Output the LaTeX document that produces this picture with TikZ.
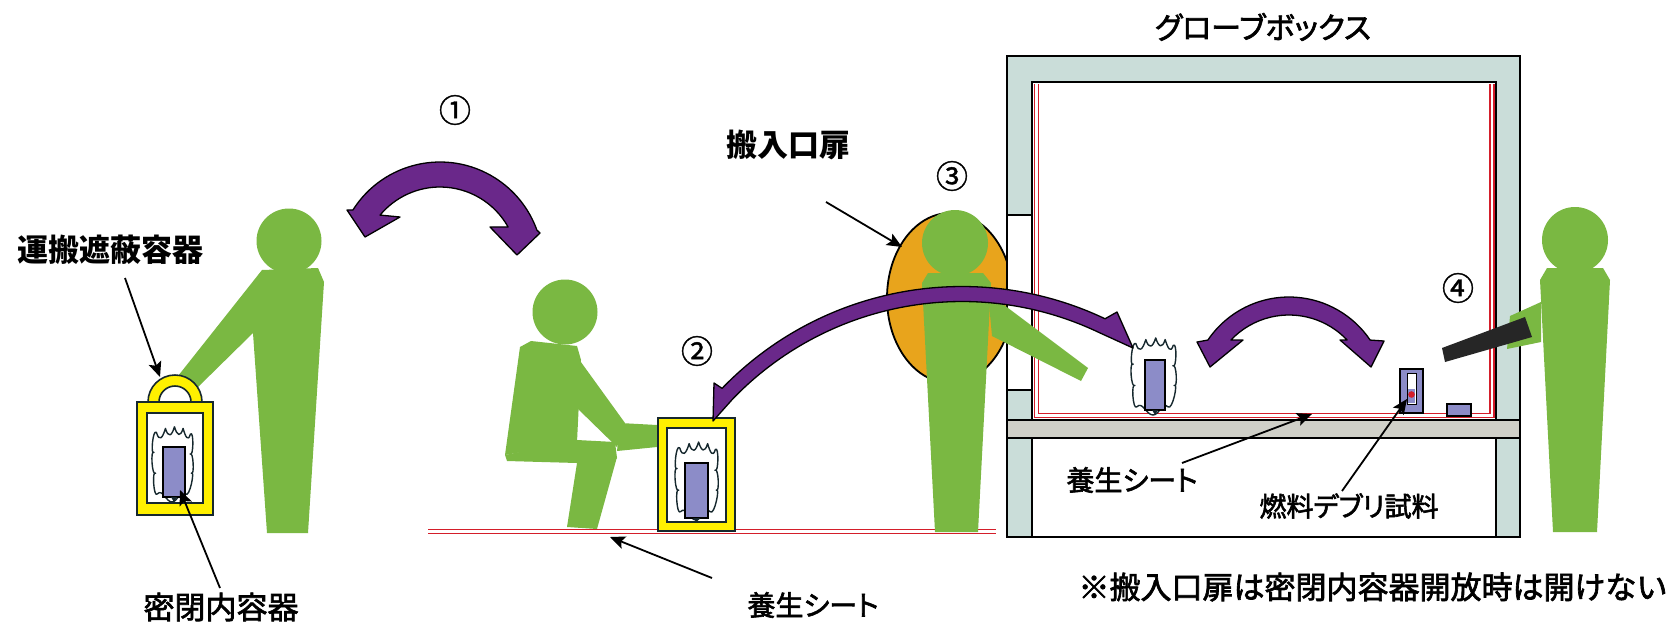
\documentclass[tikz,border=0pt]{standalone}
\usepackage{fontspec}
\newfontfamily\jp{Noto Sans CJK JP}
\newfontfamily\jpn{Noto Sans CJK JP}[FakeBold=1.2]
\newfontfamily\jpm{Noto Sans CJK JP}[FakeBold=2.2]
\newfontfamily\jpmp{Noto Sans CJK JP}[FakeBold=2.2,RawFeature=+palt]
\usetikzlibrary{arrows.meta,calc}

\definecolor{figgreen}{RGB}{122,184,66}
\definecolor{arcpurple}{RGB}{106,40,138}
\definecolor{lav}{RGB}{140,140,200}
\definecolor{shieldyellow}{RGB}{255,240,0}
\definecolor{darkline}{RGB}{22,40,46}
\definecolor{wallgray}{RGB}{202,221,217}
\definecolor{shelfgray}{RGB}{208,208,200}
\definecolor{doororange}{RGB}{232,164,28}
\definecolor{sheetred}{RGB}{212,30,42}

% white bag with a scalloped top, unit size, origin at bottom centre, y up
\tikzset{
  bag/.pic={
    \draw[darkline, fill=white, line width=1.4pt, line join=round]
      (0,0) to[out=180,in=-30] (-0.36,0.1)
      to[out=150,in=-150] (-0.4,0.36)
      to[out=150,in=-150] (-0.44,0.62)
      to[out=150,in=-150] (-0.38,0.87)
      to[out=60,in=120,looseness=1.6] (-0.16,0.92)
      to[out=60,in=120,looseness=1.6] (0.06,0.94)
      to[out=60,in=120,looseness=1.6] (0.27,0.92)
      to[out=60,in=120,looseness=1.6] (0.45,0.85)
      to[out=-30,in=30] (0.44,0.6)
      to[out=-30,in=30] (0.47,0.36)
      to[out=-30,in=30] (0.33,0.1)
      to[out=-150,in=0] (0,0) -- cycle;
  }
}

\begin{document}
\begin{tikzpicture}[x=1pt,y=-1pt,
  person/.style={fill=figgreen},
  fatarrow/.style={fill=arcpurple, draw=black, line width=1.3pt, line join=round},
  pointer/.style={draw=black, line width=1.8pt, -{Stealth[length=15pt,width=13pt,inset=3pt]}},
  shield/.style={fill=shieldyellow, draw=darkline, line width=1.6pt},
  inner/.style={fill=white, draw=darkline, line width=1.6pt},
  item/.style={fill=lav, draw=black, line width=1.4pt},
  boxline/.style={draw=black, line width=2pt},
  sheet/.style={draw=sheetred, line width=1.3pt},
  lab/.style={inner sep=0pt, font=\jpm\fontsize{30}{30}\selectfont},
  num/.style={inner sep=0pt, font=\jpn\fontsize{32}{32}\selectfont}]

\useasboundingbox (0,0) rectangle (1680,622);
\fill[white] (0,0) rectangle (1680,622);

% protective sheet on the floor
\draw[sheet] (428,529.5) -- (996,529.5);
\draw[sheet] (428,533.5) -- (996,533.5);

% ---------- worker 1 carrying the shielded cask ----------
\fill[person] (289,241) circle[radius=32.5];
\fill[person] (262,270) -- (318,268) -- (324,282) -- (308,533) -- (267,533)
  -- (253,333) -- (197,388) -- (178,376) -- cycle;

% shielded transport cask 1
\draw[shield] (148,402) arc[start angle=180,end angle=360,radius=27]
  -- (191,402) arc[start angle=0,end angle=-180,radius=16] -- cycle;
\draw[shield] (137,402) rectangle (213,515);
\draw[inner] (147,413) rectangle (203,503);
\pic[xscale=41,yscale=-80] at (172,502) {bag};
\draw[item] (163,447) rectangle (185,497);
\fill[darkline] (171,497) -- (177,497) -- (174,502) -- cycle;

% ---------- worker 2 crouching ----------
\fill[person] (565,312) circle[radius=32.5];
\fill[person] (520,347) -- (531,341) -- (577,346) -- (581,360) -- (577,442) -- (505,455) -- cycle;
\fill[person] (578,358) -- (625,423) -- (617,447) -- (576,407) -- cycle;
\fill[person] (620,423) -- (657,425) -- (657,447) -- (617,451) -- cycle;
\fill[person] (505,455) -- (577,440) -- (615,442) -- (617,458) -- (612,464) -- (507,461) -- cycle;
\fill[person] (577,463) -- (617,457) -- (597,529) -- (567,527) -- cycle;

% shielded transport cask 2 (on the sheet)
\draw[shield] (658,418) rectangle (735,531);
\draw[inner] (667,428) rectangle (726,522);
\pic[xscale=43,yscale=-83] at (696,520) {bag};
\draw[item] (685,463) rectangle (708,518);
\fill[darkline] (693,518) -- (700,518) -- (696.5,522) -- cycle;

% ---------- glove box ----------
\filldraw[fill=doororange, draw=black, line width=1.8pt] (950,298) ellipse[x radius=63, y radius=85];

\draw[boxline, fill=wallgray] (1007,56) rectangle (1520,537);
\draw[boxline, fill=white] (1032,82) rectangle (1496,420);
\draw[boxline, fill=shelfgray] (1007,420) rectangle (1520,438);
\draw[boxline, fill=white] (1032,438) rectangle (1496,537);
\draw[boxline, fill=white] (1007,215) rectangle (1032,390);
\draw[sheet] (1034.5,84) |- (1494,417.5) -- (1494,84);
\draw[sheet] (1038.5,84) |- (1490,413.5) -- (1490,84);

% worker 3 at the loading door
\fill[person] (955,243) circle[radius=33];
\fill[person] (928,273) -- (983,273) -- (991,283) -- (978,532) -- (935,532) -- (922,283) -- cycle;
\fill[person] (988,293) -- (1088,368) -- (1081,381) -- (992,336) -- cycle;

% worker 4 at the gloves
\fill[person] (1575,240) circle[radius=33];
\fill[person] (1547,268) -- (1603,268) -- (1610,280) -- (1597,532) -- (1553,532) -- (1540,280) -- cycle;
\fill[person] (1541,302) -- (1510,316) -- (1507,349) -- (1541,342) -- cycle;
\fill[black!85] (1442,348) -- (1525,317) -- (1532,337) -- (1445,362) -- cycle;

% items inside the glove box
\pic[xscale=45,yscale=-82] at (1153,415) {bag};
\draw[item] (1145,360) rectangle (1165,410);
\fill[darkline] (1152,410) -- (1158,410) -- (1155,415) -- cycle;
\draw[item] (1400,369) rectangle (1423,413);
\draw[black, line width=1pt, fill=white] (1407,373) rectangle (1416,404);
\fill[lav] (1407.6,389) rectangle (1415.4,403.4);
\fill[sheetred] (1411.5,394.5) circle[radius=3.3];
\draw[item] (1447,404) rectangle (1471,416);

% ---------- transfer arrows ----------
\coordinate (c1) at (440,265);
\draw[fatarrow] ($(c1)+(-147.7:103)$) arc[start angle=-147.7,end angle=-19.8,radius=103]
  -- (540,233) -- (517,255) -- (490,227)
  -- ($(c1)+(-29.2:78)$) arc[start angle=-29.2,end angle=-140.2,radius=78]
  -- (400,217) -- (365,237) -- (347,210) -- cycle;

\coordinate (c2) at (962,620);
\draw[fatarrow] ($(c2)+(-136:333.5)$) arc[start angle=-136,end angle=-64.6,radius=333.5]
  -- (1117,312) -- (1133,348)
  -- ($(c2)+(-64.6:318.5)$) arc[start angle=-64.6,end angle=-136,radius=318.5]
  -- (713,421) -- (714,383) -- cycle;

\coordinate (c4) at (1289,395);
\draw[fatarrow] ($(c4)+(-145.9:98)$) arc[start angle=-145.9,end angle=-34.1,radius=98]
  -- (1384,341) -- (1371,367) -- (1340,340)
  -- ($(c4)+(-43.4:80)$) arc[start angle=-43.4,end angle=-136.6,radius=80]
  -- (1243,340) -- (1210,367) -- (1197,342) -- cycle;

% ---------- labels ----------
\node[lab, font=\jp\bfseries\fontsize{31}{31}\selectfont] (lcask) at (110,250) {運搬遮蔽容器};
\node[lab, font=\jpm\fontsize{31}{31}\selectfont] (linner) at (221,607) {密閉内容器};
\node[lab, font=\jp\bfseries\fontsize{31}{31}\selectfont] (ldoor) at (788,145) {搬入口扉};
\node[lab, font=\jpmp\fontsize{30}{30}\selectfont] (lgb) at (1263,27) {グローブボックス};
\node[lab, font=\jpmp\fontsize{28}{28}\selectfont] (lsheetA) at (813,605) {養生シート};
\node[lab, font=\jpmp\fontsize{28}{28}\selectfont] (lsheetB) at (1132,480) {養生シート};
\node[lab, font=\jpmp\fontsize{27}{27}\selectfont] (ldebris) at (1349,506) {燃料デブリ試料};
\node[lab, font=\jpm\fontsize{31}{31}\selectfont] (lnote) at (1373,587) {※搬入口扉は密閉内容器開放時は開けない};

\node[num] (n1) at (455,110) {①};
\node[num] (n2) at (697,351) {②};
\node[num] (n3) at (952,176) {③};
\node[num] (n4) at (1458,288) {④};

% ---------- pointers ----------
\coordinate (pcaskS) at (125,278);   \coordinate (pcaskE) at (160,377);
\coordinate (pinnerS) at (220,588);  \coordinate (pinnerE) at (180,490);
\coordinate (pdoorS) at (826,202);   \coordinate (pdoorE) at (902,247);
\coordinate (psheetAS) at (712,578); \coordinate (psheetAE) at (610,537);
\coordinate (psheetBS) at (1182,463);\coordinate (psheetBE) at (1312,414);
\coordinate (pdebrisS) at (1342,491);\coordinate (pdebrisE) at (1407,399);
\draw[pointer] (pcaskS) -- (pcaskE);
\draw[pointer] (pinnerS) -- (pinnerE);
\draw[pointer] (pdoorS) -- (pdoorE);
\draw[pointer] (psheetAS) -- (psheetAE);
\draw[pointer] (psheetBS) -- (psheetBE);
\draw[pointer] (pdebrisS) -- (pdebrisE);
\end{tikzpicture}
\end{document}
